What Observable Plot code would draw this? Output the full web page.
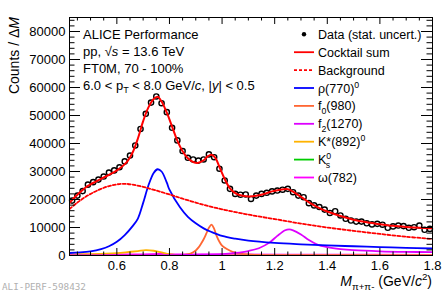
<!DOCTYPE html>
<html><head><meta charset="utf-8">
<script src="https://cdn.jsdelivr.net/npm/d3@7"></script>
<script src="https://cdn.jsdelivr.net/npm/@observablehq/plot@0.6"></script>
<style>body{margin:0;background:#fff}svg{display:block}</style>
</head><body><div id="chart"></div>
<script>
// ---- data ----
const massBins = [0.43,0.45,0.47,0.49,0.51,0.53,0.55,0.57,0.59,0.61,0.63,0.65,0.67,0.69,0.71,0.73,0.75,0.77,0.79,0.81,0.83,0.85,0.87,0.89,0.91,0.93,0.95,0.97,0.99,1.01,1.03,1.05,1.07,1.09,1.11,1.13,1.15,1.17,1.19,1.21,1.23,1.25,1.27,1.29,1.31,1.33,1.35,1.37,1.39,1.41,1.43,1.45,1.47,1.49,1.51,1.53,1.55,1.57,1.59,1.61,1.63,1.65,1.67,1.69,1.71,1.73,1.75,1.77,1.79];
const counts = [19600,21400,23000,25300,26200,27100,28200,29600,30400,31500,33600,35700,39300,45200,50600,54600,56800,54400,51200,45600,41100,37300,34900,34300,33900,34300,36100,35100,31000,26800,23800,22000,21700,21800,20200,21400,22000,22400,22900,23200,23500,23800,22600,21400,20800,18700,17900,17300,16400,15200,15800,14300,13100,12500,12100,12100,11500,11100,11300,11000,9900,10400,10700,10500,9900,10100,10700,9200,9500];

const sumMass = [0.42,0.44,0.46,0.48,0.50,0.52,0.54,0.56,0.58,0.60,0.62,0.64,0.66,0.68,0.70,0.72,0.74,0.755,0.77,0.79,0.81,0.83,0.85,0.87,0.89,0.91,0.93,0.945,0.96,0.975,0.99,1.01,1.03,1.05,1.07,1.10,1.13,1.16,1.19,1.22,1.25,1.28,1.31,1.34,1.37,1.40,1.45,1.50,1.55,1.60,1.65,1.70,1.75,1.80];
const sumCounts = [18800,20800,22600,24200,25400,26400,27400,28300,29300,30400,31800,33600,36800,41800,48000,52900,55900,56700,55000,51000,46000,41000,37200,34700,33400,33100,34000,35400,36000,34800,31600,27300,24000,22300,21500,21100,21300,22000,22900,23500,23700,22200,20300,18400,16900,15700,14100,12800,11900,11200,10600,10200,9900,9700];

const bgMass = [0.42,0.45,0.48,0.51,0.54,0.57,0.60,0.63,0.66,0.70,0.75,0.80,0.85,0.90,0.95,1.00,1.10,1.20,1.30,1.40,1.50,1.60,1.70,1.80];
const bgCounts = [16600,18900,20900,22500,23800,24800,25400,25600,25300,24500,23200,21800,20300,18900,17600,16500,14600,13000,11400,10000,8800,7700,6700,5900];

const rhoMass = [0.42,0.46,0.50,0.54,0.57,0.60,0.63,0.66,0.68,0.70,0.72,0.74,0.755,0.77,0.79,0.80,0.84,0.87,0.90,0.93,0.96,1.00,1.05,1.10,1.20,1.30,1.40,1.50,1.60,1.70,1.80];
const rhoCounts = [900,1100,1500,2300,3300,4900,7300,10500,13200,18800,25000,29500,30800,30000,26000,23500,17200,13800,11500,9700,8400,7000,6000,5300,4500,4000,3600,3300,3000,2700,2500];

const f0Mass = [0.42,0.80,0.86,0.88,0.90,0.91,0.92,0.93,0.94,0.95,0.96,0.97,0.98,0.99,1.00,1.02,1.04,1.07,1.10,1.15,1.25,1.80];
const f0Counts = [0,0,300,700,1800,2800,4200,5800,7800,9900,11000,9500,6800,4900,3500,2200,1300,700,400,150,50,0];

const f2Mass = [0.42,0.80,0.90,1.00,1.05,1.10,1.14,1.18,1.21,1.24,1.255,1.27,1.30,1.33,1.36,1.40,1.45,1.50,1.60,1.70,1.80];
const f2Counts = [0,100,250,500,900,1600,2600,4600,7000,9000,9300,9000,7500,5500,4000,3000,2300,1900,1500,1300,1200];

const kstarMass = [0.42,0.50,0.56,0.60,0.64,0.68,0.71,0.74,0.77,0.80,0.83,0.86,0.90,1.00,1.80];
const kstarCounts = [400,500,650,850,1200,1600,1900,1700,1100,500,150,50,0,0,0];

const k0sMass = [0.42,0.48,0.50,0.52,1.80];
const k0sCounts = [0,50,100,50,0];

const omegaMass = [0.42,0.60,0.70,0.76,0.78,0.80,0.86,1.00,1.40,1.80];
const omegaCounts = [300,350,400,550,650,500,400,350,300,250];

const xTickLabels = [0.6,0.8,1.0,1.2,1.4,1.6,1.8];
const xMinorTicks = [0.45,0.5,0.55,0.65,0.7,0.75,0.85,0.9,0.95,1.05,1.1,1.15,1.25,1.3,1.35,1.45,1.5,1.55,1.65,1.7,1.75];
const yTickLabels = [0,10000,20000,30000,40000,50000,60000,70000,80000];
const yMinorTicks = [2000,4000,6000,8000,12000,14000,16000,18000,22000,24000,26000,28000,32000,34000,36000,38000,42000,44000,46000,48000,52000,54000,56000,58000,62000,64000,66000,68000,72000,74000,76000,78000,82000,84000];

const legendLabels = ["Data (stat. uncert.)","Cocktail sum","Background","ρ(770)0","f0(980)","f2(1270)","K*(892)0","K0s","ω(782)"];

// ---- helpers ----
const pts = (xs, ys) => xs.map((x, i) => ({x, y: ys[i]}));
const FONT = "'Liberation Sans', Arial, Helvetica, sans-serif";
const W = 448, H = 293, ML = 69, MR = 16, MT = 17, MB = 38;
const PW = W - ML - MR, PH = H - MT - MB;

const colors = {sum:"#ff0000", bg:"#ff0000", rho:"#0000ff", f0:"#ff6633", f2:"#dd00ff", kstar:"#ffb300", k0s:"#00cc00", omega:"#ff00ff"};

const line = (xs, ys, stroke, extra={}) => Plot.line(pts(xs, ys), {x:"x", y:"y", stroke, strokeWidth:1.8, curve:"catmull-rom", clip:true, ...extra});

const chart = Plot.plot({
  width: W, height: H, marginLeft: ML, marginRight: MR, marginTop: MT, marginBottom: MB,
  x: {domain: [0.42, 1.8]},
  y: {domain: [0, 85000]},
  style: {fontFamily: FONT, fontSize: "13px", background: "white", color: "black"},
  marks: [
    line(k0sMass, k0sCounts, colors.k0s),
    line(omegaMass, omegaCounts, colors.omega),
    line(kstarMass, kstarCounts, colors.kstar),
    line(f0Mass, f0Counts, colors.f0),
    line(f2Mass, f2Counts, colors.f2),
    line(rhoMass, rhoCounts, colors.rho),
    line(bgMass, bgCounts, colors.bg, {strokeDasharray:"3,2"}),
    Plot.dot(pts(massBins, counts), {x:"x", y:"y", r:2.6, stroke:"black", strokeWidth:1.4, fill:"white"}),
    line(sumMass, sumCounts, colors.sum, {strokeWidth:2}),
    // ticks (inward, ROOT style)
    Plot.ruleX(xTickLabels, {insetTop: PH - 7}),
    Plot.ruleX(xTickLabels, {insetBottom: PH - 7}),
    Plot.ruleX(xMinorTicks, {insetTop: PH - 3.5}),
    Plot.ruleX(xMinorTicks, {insetBottom: PH - 3.5}),
    Plot.ruleY(yTickLabels, {insetRight: PW - 11}),
    Plot.ruleY(yTickLabels, {insetLeft: PW - 11}),
    Plot.ruleY(yMinorTicks, {insetRight: PW - 5.5}),
    Plot.ruleY(yMinorTicks, {insetLeft: PW - 5.5}),
    Plot.axisX(xTickLabels, {tickSize:0, tickPadding:5, fontSize:13, label:null, tickFormat: d => String(+d.toFixed(1))}),
    Plot.axisY(yTickLabels, {tickSize:0, tickPadding:4, fontSize:13, label:null, tickFormat: d3.format("d")}),
    Plot.frame({stroke:"black"})
  ]
});
document.getElementById("chart").appendChild(chart);

// ---- texts (titles, annotation, legend) ----
const svg = d3.select(chart);
function rich(g, x, y, segs, size, anchor) {
  const t = g.append("text").attr("x", x).attr("y", y).attr("text-anchor", anchor || "start")
    .attr("font-size", size).attr("font-family", FONT).attr("fill", "black");
  let shift = 0;
  for (const [s, kind, dx] of segs) {
    const ts = t.append("tspan").text(s);
    let target = 0;
    if (kind === "sub") { target = size * 0.3; ts.attr("font-size", size * 0.7); }
    if (kind === "sup") { target = -size * 0.4; ts.attr("font-size", size * 0.7); }
    if (kind === "i") ts.attr("font-style", "italic");
    if (target !== shift) { ts.attr("dy", target - shift); shift = target; }
    if (dx) ts.attr("dx", dx);
  }
  return t;
}
const g = svg.append("g").attr("text-anchor", "start");
// axis titles
rich(g, 0, 0, [["Counts / Δ"],["M","i"]], 14, "end").attr("transform", `translate(19,${MT}) rotate(-90)`);
rich(g, W - MR, 286, [["M","i"],["π+π-","sub"],[" (GeV/"],["c","i"],["2","sup"],[")"]], 14, "end");
// annotation
rich(g, 83, 38.5, [["ALICE Performance"]], 13);
rich(g, 83, 56, [["pp, √"],["s","i"],[" = 13.6 TeV"]], 13);
rich(g, 83, 72.5, [["FT0M, 70 - 100%"]], 13);
rich(g, 83, 89.5, [["6.0 < p"],["T","sub"],[" < 8.0 GeV/"],["c","i"],[", |"],["y","i"],["| < 0.5"]], 13);
// legend
const legSegs = [
  [[legendLabels[0]]],
  [[legendLabels[1]]],
  [[legendLabels[2]]],
  [["ρ(770)"],["0","sup"]],
  [["f"],["0","sub"],["(980)"]],
  [["f"],["2","sub"],["(1270)"]],
  [["K*(892)"],["0","sup"]],
  [["K"],["0","sup"],["s","sub",-5.5]],
  [[legendLabels[8]]]
];
const legStyles = [
  null,
  {c: colors.sum},
  {c: colors.bg, dash: "3,2"},
  {c: colors.rho}, {c: colors.f0}, {c: colors.f2}, {c: colors.kstar}, {c: colors.k0s}, {c: colors.omega}
];
legSegs.forEach((segs, i) => {
  const cy = 34.3 + 17.9 * i;
  const st = legStyles[i];
  if (!st) {
    g.append("circle").attr("cx", 304).attr("cy", cy).attr("r", 2.2).attr("fill", "black");
  } else {
    g.append("line").attr("x1", 294).attr("x2", 314).attr("y1", cy).attr("y2", cy)
      .attr("stroke", st.c).attr("stroke-width", 1.8).attr("stroke-dasharray", st.dash || null);
  }
  rich(g, 318, cy + 4.5, segs, 12.5);
});
// watermark
g.append("text").attr("x", 2).attr("y", 290).attr("text-anchor", "start")
  .attr("font-family", "'DejaVu Sans Mono', 'Liberation Mono', monospace")
  .attr("font-size", 9.3).attr("fill", "#b0b0b0").text("ALI-PERF-598432");
</script>
</body></html>
